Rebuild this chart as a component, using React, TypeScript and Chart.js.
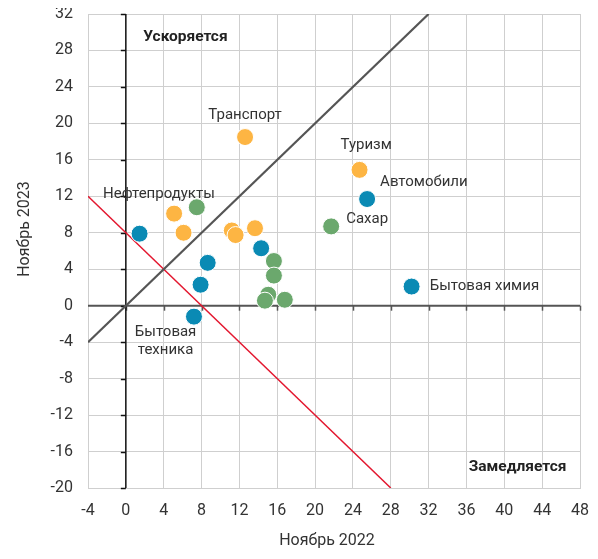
import React, { useEffect, useRef } from "react";
import { Chart, registerables } from "chart.js";

Chart.register(...registerables);

// Series values (x = Ноябрь 2022, y = Ноябрь 2023)
const orangeX = [12.6, 24.7, 5.1, 6.1, 11.2, 11.6, 13.65];
const orangeY = [18.5, 14.9, 10.1, 8.0, 8.25, 7.75, 8.5];
const greenX = [7.5, 15.65, 15.65, 15.05, 14.7, 16.8, 21.7];
const greenY = [10.8, 4.9, 3.3, 1.2, 0.55, 0.65, 8.7];
const blueX = [1.45, 8.65, 7.9, 7.2, 14.3, 25.5, 30.2];
const blueY = [7.9, 4.7, 2.3, -1.2, 6.3, 11.7, 2.1];

// Reference lines
const diagX = [-4, 32];
const diagY = [-4, 32];
const redX = [-4, 28];
const redY = [12, -20];

// Axis ranges / ticks
const xMin = -4, xMax = 48, yMin = -20, yMax = 32, tickStep = 4;

// Annotation texts (anchored in data coordinates)
const labelTexts = ["Транспорт", "Туризм", "Автомобили", "Сахар", "Бытовая химия", "Нефтепродукты", "Бытовая", "техника"];
const labelX = [12.6, 25.4, 31.5, 25.5, 37.9, 3.5, 4.2, 4.2];
const labelY = [20.9, 17.6, 13.5, 9.5, 2.1, 12.2, -2.9, -4.9];
const boldTexts = ["Ускоряется", "Замедляется"];
const boldX = [6.3, 41.4];
const boldY = [29.5, -17.7];

const xTitle = "Ноябрь 2022";
const yTitle = "Ноябрь 2023";

const FONT = "Roboto, 'Open Sans', sans-serif";

const zip = (xs: number[], ys: number[]) => xs.map((x, i) => ({ x, y: ys[i] }));

const overlayPlugin = {
  id: "overlay",
  beforeDatasetsDraw(chart: any) {
    const { ctx, chartArea, scales } = chart;
    const xs = scales.x, ys = scales.y;
    ctx.save();
    // y = 0 axis (horizontal)
    const y0 = ys.getPixelForValue(0);
    ctx.strokeStyle = "#555";
    ctx.lineWidth = 2;
    ctx.beginPath();
    ctx.moveTo(chartArea.left, y0);
    ctx.lineTo(chartArea.right, y0);
    ctx.stroke();
    ctx.lineWidth = 1.5;
    for (let v = xMin + tickStep; v <= xMax; v += tickStep) {
      const px = Math.round(xs.getPixelForValue(v)) + 0.5;
      ctx.beginPath();
      ctx.moveTo(px, y0);
      ctx.lineTo(px, y0 + 5);
      ctx.stroke();
    }
    // x = 0 axis (vertical)
    const x0 = xs.getPixelForValue(0);
    ctx.strokeStyle = "#111";
    ctx.lineWidth = 1.5;
    ctx.beginPath();
    ctx.moveTo(x0, chartArea.top);
    ctx.lineTo(x0, chartArea.bottom);
    ctx.stroke();
    for (let v = yMin; v <= yMax; v += tickStep) {
      const py = Math.round(ys.getPixelForValue(v)) + 0.5;
      ctx.beginPath();
      ctx.moveTo(x0, py);
      ctx.lineTo(x0 - 5, py);
      ctx.stroke();
    }
    ctx.restore();
  },
  afterDatasetsDraw(chart: any) {
    const { ctx, chartArea, scales } = chart;
    const xs = scales.x, ys = scales.y;
    ctx.save();
    ctx.textAlign = "center";
    ctx.textBaseline = "middle";
    ctx.fillStyle = "#333";
    ctx.font = `15px ${FONT}`;
    labelTexts.forEach((t, i) => {
      ctx.fillText(t, xs.getPixelForValue(labelX[i]), ys.getPixelForValue(labelY[i]));
    });
    ctx.fillStyle = "#222";
    ctx.font = `bold 15.5px ${FONT}`;
    boldTexts.forEach((t, i) => {
      ctx.fillText(t, xs.getPixelForValue(boldX[i]), ys.getPixelForValue(boldY[i]));
    });
    // axis titles
    ctx.fillStyle = "#333";
    ctx.font = `16px ${FONT}`;
    ctx.fillText(xTitle, (chartArea.left + chartArea.right) / 2 - 7, chart.height - 10);
    ctx.translate(17, (chartArea.top + chartArea.bottom) / 2 - 22);
    ctx.rotate(-Math.PI / 2);
    ctx.fillText(yTitle, 0, 0);
    ctx.restore();
  },
};

export default function App() {
  const ref = useRef<HTMLCanvasElement>(null);
  useEffect(() => {
    if (!ref.current) return;
    const pointStyle = (color: string) => ({
      backgroundColor: color,
      borderColor: "#fff",
      borderWidth: 1,
      pointRadius: 8.5,
      pointHoverRadius: 8.5,
      showLine: false,
    });
    const chart = new Chart(ref.current, {
      type: "scatter",
      data: {
        datasets: [
          { label: "orange", data: zip(orangeX, orangeY), ...pointStyle("#FDB543"), order: 1 },
          { label: "green", data: zip(greenX, greenY), ...pointStyle("#6BA86D"), order: 1 },
          { label: "blue", data: zip(blueX, blueY), ...pointStyle("#0A8AB4"), order: 1 },
          {
            label: "diag", data: zip(diagX, diagY), showLine: true, pointRadius: 0,
            borderColor: "#555", borderWidth: 2.2, order: 2,
          },
          {
            label: "red", data: zip(redX, redY), showLine: true, pointRadius: 0,
            borderColor: "#E3172F", borderWidth: 1.5, order: 2,
          },
        ],
      },
      options: {
        animation: false,
        responsive: true,
        maintainAspectRatio: false,
        layout: { autoPadding: false, padding: { top: 14, right: 10, left: 0, bottom: 0 } },
        plugins: { legend: { display: false }, tooltip: { enabled: false } },
        scales: {
          x: {
            type: "linear",
            min: xMin,
            max: xMax,
            afterFit: (s: any) => { s.height = 63; s.paddingLeft = 0; s.paddingRight = 0; },
            ticks: { stepSize: tickStep, padding: 13, color: "#333", font: { family: FONT, size: 16 } },
            grid: { color: "#cfcfcf", lineWidth: 1, drawTicks: false },
            border: { display: true, color: "#cfcfcf" },
          },
          y: {
            type: "linear",
            min: yMin,
            max: yMax,
            afterFit: (s: any) => { s.width = 80; s.paddingTop = 0; s.paddingBottom = 0; },
            ticks: { stepSize: tickStep, padding: 15, color: "#333", font: { family: FONT, size: 16 } },
            grid: { color: "#cfcfcf", lineWidth: 1, drawTicks: false },
            border: { display: true, color: "#cfcfcf" },
          },
        },
      },
      plugins: [overlayPlugin],
    } as any);
    return () => chart.destroy();
  }, []);
  return (
    <div style={{ width: "582px", height: "551px", marginTop: "-8px", position: "relative" }}>
      <canvas ref={ref} />
    </div>
  );
}
